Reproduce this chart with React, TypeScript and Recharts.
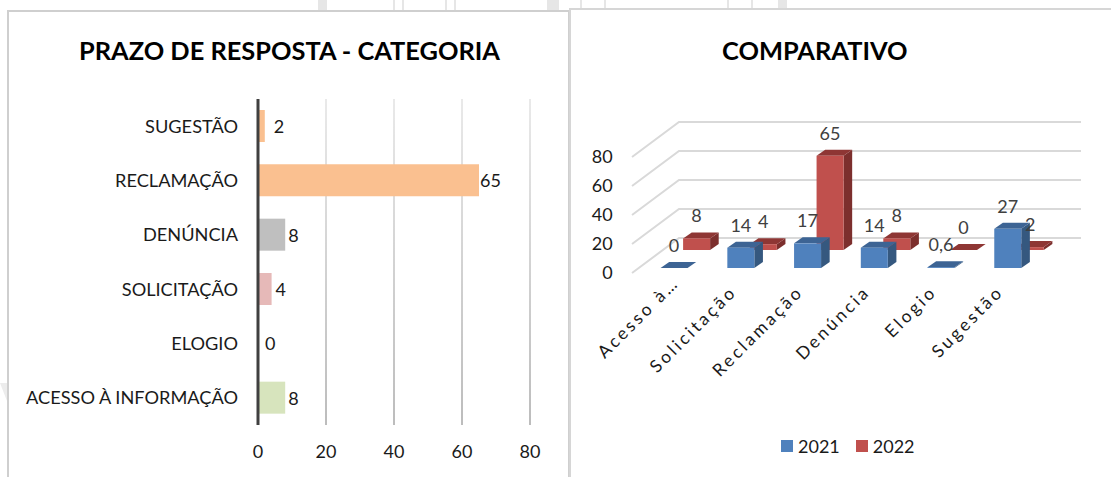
import React from "react";
import {
  BarChart, Bar, XAxis, YAxis, CartesianGrid, LabelList, Legend, Cell,
} from "recharts";

const font = "Lato, 'Noto Sans', sans-serif";

// response time per category
const deadlineCategories = ["SUGESTÃO", "RECLAMAÇÃO", "DENÚNCIA", "SOLICITAÇÃO", "ELOGIO", "ACESSO À INFORMAÇÃO"];
const deadlineValues = [2, 65, 8, 4, 0, 8];
const deadlineColors = ["#fac090", "#fac090", "#bfbfbf", "#e6b9b8", "#ffffff", "#d7e4bd"];
const deadlineTicks = [0, 20, 40, 60, 80];
// gap between bar end and its label
const deadlineLabelGaps = [9, 1, 3, 4, 6, 3];

// year over year comparison
const compareCategories = ["Acesso à…", "Solicitação", "Reclamação", "Denúncia", "Elogio", "Sugestão"];
const values2021 = [0, 14, 17, 14, 0.6, 27];
const values2022 = [8, 4, 65, 8, 0, 2];
const compareTicks = [0, 20, 40, 60, 80];

const deadlineData = deadlineCategories.map((name, i) => ({ name, value: deadlineValues[i] }));
const compareData = compareCategories.map((name, i) => ({ name, y2021: values2021[i], y2022: values2022[i] }));

// faint page artwork showing around the cards: [left, width]
const pageMarks = [[318, 9], [393, 2], [402, 2], [445, 2], [454, 2], [547, 12], [580, 2], [604, 2], [727, 2], [751, 2], [778, 9]];

// faux 3D: offsets of each row from the front plane, and the extrusion size
const FRONT_ROW = { dx: 0, dy: -5 };
const BACK_ROW = { dx: 22.5, dy: -23 };
const EXTRUDE = { dx: 8.6, dy: 6 };
const WALL = { dx: 47, dy: -35 };

const box3d = (row: { dx: number; dy: number }, front: string, side: string, top: string) => (props: any) => {
  const x = props.x + row.dx;
  const y = props.y + row.dy;
  const { width: w, height } = props;
  const h = Math.max(height, 0);
  const { dx, dy } = EXTRUDE;
  return (
    <g>
      <polygon points={`${x + w},${y} ${x + w + dx},${y - dy} ${x + w + dx},${y + h - dy} ${x + w},${y + h}`} fill={side} />
      <polygon points={`${x},${y} ${x + dx},${y - dy} ${x + w + dx},${y - dy} ${x + w},${y}`} fill={top} />
      <rect x={x} y={y} width={w} height={h} fill={front} />
    </g>
  );
};

const valueLabel = (row: { dx: number; dy: number }) => (props: any) => (
  <text
    x={props.x + props.width / 2 + row.dx}
    y={props.y + row.dy - 23}
    textAnchor="middle"
    dominantBaseline="central"
    fontFamily={font}
    fontSize={18}
    fill="#404040"
  >
    {String(props.value).replace(".", ",")}
  </text>
);

const wallLine = (props: any) => {
  const { x2, y1 } = props;
  const backY = y1 + WALL.dy;
  const startX = 62;
  return (
    <polyline
      key={props.key}
      points={`${startX},${y1} ${startX + WALL.dx},${backY} ${x2 + 40},${backY}`}
      fill="none"
      stroke="#d9d9d9"
      strokeWidth={2}
    />
  );
};

const SlantedTick = (props: any) => {
  const label = props.payload.value as string;
  // the shortened label sits further along the slant
  const shift = label.endsWith("…") ? 9 : 0;
  return (
    <g transform={`translate(${props.x - 3 + shift},${props.y - 48 - shift})`}>
      <text
        transform="rotate(-45)"
        textAnchor="end"
        fontFamily={font}
        fontSize={17.5}
        letterSpacing={2.9}
        fill="#1a1a1a"
      >
        {label}
      </text>
    </g>
  );
};

const YearLegend = ({ payload }: any) => (
  <div style={{ display: "flex", gap: 16, fontFamily: font, fontSize: 18, color: "#1a1a1a", lineHeight: "22px" }}>
    {payload.filter((p: any) => p.type !== "none").map((p: any) => (
      <span key={p.value} style={{ display: "flex", alignItems: "center", gap: 5 }}>
        <span style={{ width: 12, height: 12, background: p.color, display: "inline-block" }} />
        {p.value}
      </span>
    ))}
  </div>
);

const cardTitle: React.CSSProperties = {
  position: "absolute",
  fontFamily: font,
  fontWeight: 700,
  fontSize: 25.4,
  color: "#000",
  whiteSpace: "nowrap",
  lineHeight: "30px",
};

export default function App() {
  return (
    <div style={{ position: "absolute", left: 0, top: 0, width: 1111, height: 477, background: "#fff", overflow: "hidden" }}>
      {pageMarks.map(([left, width]) => (
        <div key={left} style={{ position: "absolute", left, top: 0, width, height: 10, background: "#e6e6e6" }} />
      ))}
      <div style={{ position: "absolute", left: 0, top: 383, width: 7, height: 18, background: "#ececec", clipPath: "polygon(0 0, 100% 0, 100% 100%)" }} />
      <div style={{ position: "absolute", left: 7, top: 10, width: 563, height: 480, border: "2px solid #cfcfcf", background: "#fff", boxSizing: "border-box" }} />
      <div style={{ position: "absolute", left: 569, top: 8, width: 560, height: 480, border: "2px solid #d6d6d6", background: "#fff", boxSizing: "border-box" }} />

      <div style={{ ...cardTitle, left: 79, top: 35 }}>PRAZO DE RESPOSTA - CATEGORIA</div>
      <div style={{ ...cardTitle, left: 722, top: 35 }}>COMPARATIVO</div>

      <div style={{ position: "absolute", left: 0, top: 0 }}>
        <BarChart
          width={570}
          height={477}
          layout="vertical"
          data={deadlineData}
          margin={{ top: 99, right: 40, bottom: 22, left: 0 }}
          barCategoryGap={11}
        >
          <defs>
            <linearGradient id="gridFade" gradientUnits="userSpaceOnUse" x1="0" y1="99" x2="0" y2="425">
              <stop offset="0%" stopColor="#e2e2e2" />
              <stop offset="100%" stopColor="#a6a6a6" />
            </linearGradient>
          </defs>
          <CartesianGrid horizontal={false} stroke="url(#gridFade)" strokeWidth={1.5} />
          <XAxis
            type="number"
            domain={[0, 80]}
            ticks={deadlineTicks}
            axisLine={false}
            tickLine={false}
            tickMargin={14}
            tick={{ fontFamily: font, fontSize: 18, fill: "#1a1a1a" }}
            height={30}
          />
          <YAxis
            type="category"
            dataKey="name"
            width={258}
            axisLine={{ stroke: "#404040", strokeWidth: 3 }}
            tickLine={false}
            tickMargin={14}
            interval={0}
            tick={{ fontFamily: font, fontSize: 18.2, fill: "#1a1a1a" }}
          />
          <Bar dataKey="value" minPointSize={1} isAnimationActive={false}>
            {deadlineData.map((d, i) => (
              <Cell key={d.name} fill={deadlineColors[i]} />
            ))}
            <LabelList
              dataKey="value"
              content={(props: any) => (
                <text
                  x={props.x + (props.width || 0) + deadlineLabelGaps[props.index]}
                  y={props.y + props.height / 2}
                  dominantBaseline="central"
                  fontFamily={font}
                  fontSize={18}
                  fill="#1a1a1a"
                >
                  {String(props.value)}
                </text>
              )}
            />
          </Bar>
        </BarChart>
      </div>

      <div style={{ position: "absolute", left: 570, top: 0 }}>
        <BarChart
          width={541}
          height={477}
          data={compareData}
          margin={{ top: 157, right: 70, bottom: 152, left: 0 }}
          barSize={27}
        >
          <CartesianGrid vertical={false} horizontal={wallLine} />
          <XAxis xAxisId="front" dataKey="name" axisLine={false} tickLine={false} interval={0} tick={<SlantedTick />} height={30} />
          <XAxis xAxisId="back" dataKey="name" hide />
          <XAxis xAxisId="backLabels" dataKey="name" hide />
          <YAxis
            domain={[0, 80]}
            ticks={compareTicks}
            width={70.6}
            axisLine={false}
            tickLine={false}
            tickMargin={22}
            tick={{ fontFamily: font, fontSize: 18, fill: "#1a1a1a" }}
          />
          {/* back row paints first so the front row can overlap it */}
          <Bar xAxisId="back" dataKey="y2022" name="2022" fill="#c0504d" isAnimationActive={false} shape={box3d(BACK_ROW, "#c0504d", "#7c2f2d", "#8e3634")} />
          <Bar xAxisId="front" dataKey="y2021" name="2021" fill="#4f81bd" isAnimationActive={false} shape={box3d(FRONT_ROW, "#4f81bd", "#35587f", "#3d6494")}>
            <LabelList dataKey="y2021" content={valueLabel(FRONT_ROW)} />
          </Bar>
          {/* label-only pass so back row values stay above the front bars */}
          <Bar xAxisId="backLabels" dataKey="y2022" legendType="none" isAnimationActive={false} shape={() => null}>
            <LabelList dataKey="y2022" content={valueLabel(BACK_ROW)} />
          </Bar>
          <Legend
            layout="horizontal"
            wrapperStyle={{ position: "absolute", left: 211, top: 435, width: "auto" }}
            content={<YearLegend />}
            itemSorter="value"
          />
        </BarChart>
      </div>
    </div>
  );
}
